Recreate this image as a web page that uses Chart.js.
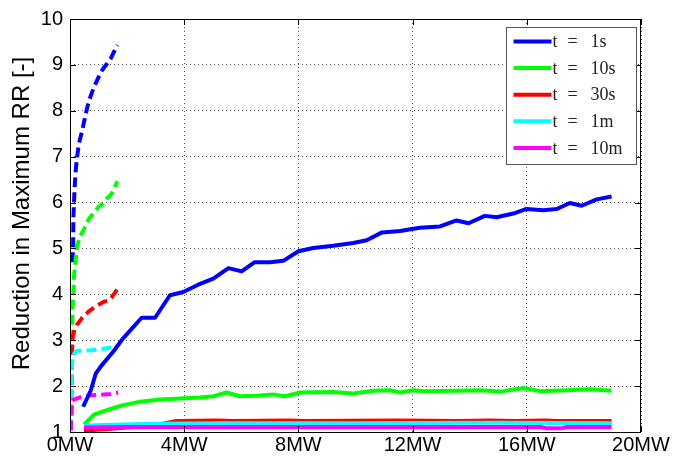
<!DOCTYPE html>
<html>
<head>
<meta charset="utf-8">
<script src="https://cdn.jsdelivr.net/npm/chart.js@4/dist/chart.umd.min.js"></script>
<style>
  html, body { margin: 0; padding: 0; background: #fff; }
  canvas { display: block; }
</style>
</head>
<body>
<canvas id="chart" width="686" height="459"></canvas>
<script>
// Axis ticks
const xTickValues = [0, 4, 8, 12, 16, 20];
const xTickLabels = ['0MW', '4MW', '8MW', '12MW', '16MW', '20MW'];
const yTickValues = [1, 2, 3, 4, 5, 6, 7, 8, 9, 10];
const yAxisTitle = 'Reduction in Maximum RR [-]';

// Time windows (one colour each)
const windows = ['1s', '10s', '30s', '1m', '10m'];
const colours = ['#0000ff', '#00ff00', '#ff0000', '#00ffff', '#ff00ff'];

// Solid curves: installed capacity (MW) vs reduction factor
const solid1sX = [0.46, 0.73, 0.90, 1.08, 1.54, 1.83, 2.51, 2.98, 3.50, 3.97, 4.49, 5.02, 5.55, 6.01, 6.47, 7.01, 7.47, 8.00, 8.52, 9.22, 9.92, 10.39, 10.93, 11.56, 12.25, 12.96, 13.54, 13.96, 14.53, 14.94, 15.53, 15.99, 16.58, 17.05, 17.51, 17.92, 18.45, 18.97];
const solid1sY = [1.55, 1.91, 2.27, 2.43, 2.77, 3.02, 3.49, 3.49, 3.98, 4.05, 4.21, 4.34, 4.57, 4.50, 4.70, 4.70, 4.73, 4.94, 5.01, 5.06, 5.12, 5.18, 5.35, 5.38, 5.45, 5.48, 5.61, 5.55, 5.71, 5.68, 5.76, 5.86, 5.83, 5.86, 5.99, 5.93, 6.07, 6.13];

const solid10sX = [0.49, 0.84, 1.31, 1.83, 2.45, 3.15, 3.86, 4.55, 5.02, 5.49, 5.95, 6.54, 7.12, 7.53, 8.06, 9.22, 9.92, 10.62, 11.21, 11.56, 12.02, 12.38, 13.54, 14.36, 15.06, 15.88, 16.46, 17.40, 18.22, 18.97];
const solid10sY = [1.16, 1.38, 1.48, 1.58, 1.66, 1.71, 1.73, 1.75, 1.78, 1.86, 1.78, 1.79, 1.82, 1.78, 1.86, 1.87, 1.84, 1.90, 1.91, 1.86, 1.91, 1.89, 1.90, 1.91, 1.88, 1.96, 1.89, 1.91, 1.93, 1.90];

const solid30sX = [0.49, 1.20, 2.00, 3.00, 3.73, 5.20, 5.70, 7.70, 8.20, 11.50, 13.60, 14.70, 15.60, 16.60, 17.10, 18.97];
const solid30sY = [1.03, 1.06, 1.10, 1.15, 1.24, 1.25, 1.24, 1.25, 1.24, 1.25, 1.24, 1.25, 1.24, 1.25, 1.24, 1.24];

const solid1mX = [0.49, 1.50, 3.00, 5.40, 10.00, 15.00, 18.97];
const solid1mY = [1.14, 1.16, 1.18, 1.19, 1.19, 1.20, 1.19];

const solid10mX = [0.49, 2.00, 6.00, 12.00, 16.50, 16.70, 17.20, 17.40, 18.97];
const solid10mY = [1.10, 1.11, 1.11, 1.11, 1.11, 1.08, 1.08, 1.11, 1.11];

// Dashed curves: low-capacity range
const dash1sX = [0.09, 0.11, 0.12, 0.16, 0.20, 0.25, 0.31, 0.43, 0.55, 0.66, 0.83, 0.96, 1.13, 1.42, 1.66];
const dash1sY = [4.70, 5.10, 5.70, 6.30, 6.70, 7.00, 7.28, 7.57, 7.93, 8.21, 8.50, 8.68, 8.89, 9.13, 9.43];

const dash10sX = [0.03, 0.06, 0.09, 0.12, 0.14, 0.20, 0.25, 0.37, 0.49, 0.66, 0.84, 1.01, 1.16, 1.31, 1.46, 1.66];
const dash10sY = [1.05, 2.50, 3.70, 4.05, 4.40, 4.77, 5.06, 5.28, 5.42, 5.64, 5.78, 5.91, 5.98, 6.10, 6.19, 6.46];

const dash30sX = [0.03, 0.07, 0.10, 0.16, 0.25, 0.43, 0.66, 0.90, 1.19, 1.31, 1.48, 1.68];
const dash30sY = [1.05, 2.73, 3.08, 3.23, 3.34, 3.49, 3.63, 3.74, 3.84, 3.86, 3.95, 4.13];

const dash1mX = [0.03, 0.06, 0.08, 0.14, 0.23, 0.43, 0.73, 1.08, 1.42, 1.73];
const dash1mY = [1.05, 2.20, 2.55, 2.70, 2.77, 2.77, 2.78, 2.80, 2.84, 2.90];

const dash10mX = [0.03, 0.06, 0.08, 0.20, 0.37, 0.73, 1.08, 1.42, 1.69];
const dash10mY = [1.03, 1.50, 1.69, 1.72, 1.76, 1.80, 1.81, 1.83, 1.86];

const solidX = [solid1sX, solid10sX, solid30sX, solid1mX, solid10mX];
const solidY = [solid1sY, solid10sY, solid30sY, solid1mY, solid10mY];
const dashX = [dash1sX, dash10sX, dash30sX, dash1mX, dash10mX];
const dashY = [dash1sY, dash10sY, dash30sY, dash1mY, dash10mY];

const toPoints = (xs, ys) => xs.map((x, i) => ({ x: x, y: ys[i] }));

const datasets = [];
windows.forEach((w, i) => {
  datasets.push({
    label: 't = ' + w,
    data: toPoints(solidX[i], solidY[i]),
    borderColor: colours[i],
    borderWidth: 4,
    pointRadius: 0,
    tension: 0,
    borderJoinStyle: 'round',
    order: 4 - i
  });
});
windows.forEach((w, i) => {
  datasets.push({
    label: 't = ' + w + ' (low range)',
    data: toPoints(dashX[i], dashY[i]),
    borderColor: colours[i],
    borderWidth: 4,
    borderDash: [10, 5],
    pointRadius: 0,
    tension: 0,
    borderJoinStyle: 'round',
    order: 9 - i
  });
});

// Box frame, inward ticks, y-axis title and the in-axes legend
const framePlugin = {
  id: 'frameAndKey',
  afterDraw(chart) {
    const { ctx, chartArea: a, scales } = chart;
    const xs = scales.x, ys = scales.y;
    ctx.save();
    ctx.strokeStyle = '#000';
    ctx.lineWidth = 1;
    ctx.setLineDash([]);
    ctx.strokeRect(Math.round(a.left) + 0.5, Math.round(a.top) + 0.5,
                   Math.round(a.right - a.left) - 1, Math.round(a.bottom - a.top));
    const tl = 6;
    ctx.beginPath();
    xTickValues.forEach(v => {
      const px = Math.round(xs.getPixelForValue(v)) + 0.5;
      ctx.moveTo(px, a.bottom); ctx.lineTo(px, a.bottom - tl);
      ctx.moveTo(px, a.top); ctx.lineTo(px, a.top + tl);
    });
    yTickValues.forEach(v => {
      const py = Math.round(ys.getPixelForValue(v)) + 0.5;
      ctx.moveTo(a.left, py); ctx.lineTo(a.left + tl, py);
      ctx.moveTo(a.right, py); ctx.lineTo(a.right - tl, py);
    });
    ctx.stroke();

    // y-axis title
    ctx.save();
    ctx.translate(22, (a.top + a.bottom) / 2 - 12);
    ctx.rotate(-Math.PI / 2);
    ctx.font = '24px "Liberation Sans", Arial, sans-serif';
    ctx.fillStyle = '#000';
    ctx.textAlign = 'center';
    ctx.textBaseline = 'middle';
    ctx.fillText(yAxisTitle, 0, 0);
    ctx.restore();

    // legend box
    const bw = 130, bh = 137;
    const bx = Math.round(a.right - 5 - bw) + 0.5;
    const by = Math.round(a.top + 8) + 0.5;
    ctx.fillStyle = '#fff';
    ctx.fillRect(bx, by, bw, bh);
    ctx.strokeStyle = '#555';
    ctx.lineWidth = 1;
    ctx.strokeRect(bx, by, bw, bh);
    ctx.font = '18px "Liberation Serif", "DejaVu Serif", serif';
    ctx.fillStyle = '#222';
    ctx.textBaseline = 'middle';
    ctx.textAlign = 'left';
    windows.forEach((w, i) => {
      const ry = by + 14 + i * 26.6;
      ctx.strokeStyle = colours[i];
      ctx.lineWidth = 4;
      ctx.beginPath();
      ctx.moveTo(bx + 7, ry); ctx.lineTo(bx + 45, ry);
      ctx.stroke();
      ctx.fillText('t', bx + 46, ry + 1);
      ctx.fillText('=', bx + 61, ry + 1);
      ctx.fillText(w, bx + 84, ry + 1);
    });
    ctx.restore();
  }
};

const tickFont = { family: '"Liberation Sans", Arial, sans-serif', size: 20 };

new Chart(document.getElementById('chart'), {
  type: 'line',
  data: { datasets: datasets },
  options: {
    responsive: false,
    devicePixelRatio: 1,
    animation: false,
    layout: { padding: { top: 13, right: 45, left: 0, bottom: 0 } },
    plugins: { legend: { display: false }, tooltip: { enabled: false } },
    scales: {
      x: {
        type: 'linear',
        min: 0, max: 20,
        afterBuildTicks: s => { s.ticks = xTickValues.map(v => ({ value: v })); },
        ticks: {
          callback: (v) => xTickLabels[xTickValues.indexOf(v)],
          font: tickFont,
          color: '#000',
          padding: 1,
          maxRotation: 0,
          autoSkip: false
        },
        grid: { color: '#555', lineWidth: 1, drawTicks: false },
        border: { display: false, dash: [1, 3] },
        afterFit: s => { s.height = 27; }
      },
      y: {
        type: 'linear',
        min: 1, max: 10,
        afterBuildTicks: s => { s.ticks = yTickValues.map(v => ({ value: v })); },
        ticks: {
          font: tickFont,
          color: '#000',
          padding: 7
        },
        grid: { color: '#555', lineWidth: 1, drawTicks: false },
        border: { display: false, dash: [1, 3] },
        afterFit: s => { s.width = 70; }
      }
    }
  },
  plugins: [framePlugin]
});
</script>
</body>
</html>
